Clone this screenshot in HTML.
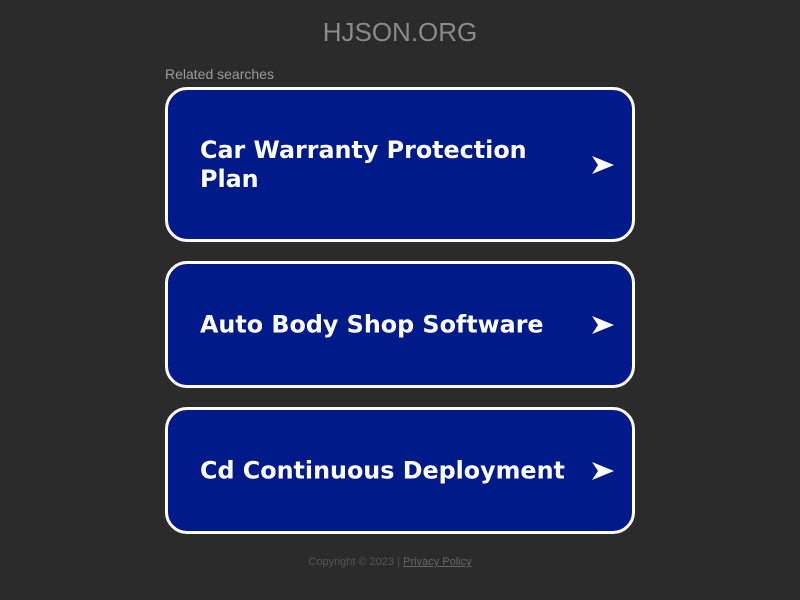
<!DOCTYPE html>
<html><head><style>
body{margin:0;width:800px;height:600px;background:#2b2b2b;font-family:"Liberation Sans",sans-serif;position:relative;overflow:hidden}
.t{position:absolute;top:17px;left:0;width:800px;text-align:center;color:#8a8a8a;font-size:26px}
.rs{position:absolute;left:165px;top:66px;color:#9a9a9a;font-size:14px}
.b{position:absolute;left:165px;width:464px;background:#011a8a;border:3px solid #fff;border-radius:22px;box-sizing:content-box}
.b span{position:absolute;left:32px;font-family:"DejaVu Sans",sans-serif;font-weight:bold;font-size:23.8px;color:#fff;line-height:29px;top:50%;transform:translateY(-50%)}
.b svg{position:absolute;right:18px;top:50%;margin-top:-9px}
.f{position:absolute;top:556px;left:-20px;width:820px;text-align:center;color:#555;font-size:11px}
.f u{color:#666}
</style></head><body>
<div class="t">HJSON.ORG</div>
<div class="rs">Related searches</div>
<div class="b" style="top:87px;height:149px"><span>Car Warranty Protection<br>Plan</span><svg width="22" height="18" viewBox="0 0 22 18"><path d="M0 0L22 9L0 18L6 9Z" fill="#fff"/></svg></div>
<div class="b" style="top:261px;height:121px"><span>Auto Body Shop Software</span><svg width="22" height="18" viewBox="0 0 22 18"><path d="M0 0L22 9L0 18L6 9Z" fill="#fff"/></svg></div>
<div class="b" style="top:407px;height:121px"><span>Cd Continuous Deployment</span><svg width="22" height="18" viewBox="0 0 22 18"><path d="M0 0L22 9L0 18L6 9Z" fill="#fff"/></svg></div>
<div class="f">Copyright © 2023 | <u>Privacy Policy</u></div>
</body></html>
